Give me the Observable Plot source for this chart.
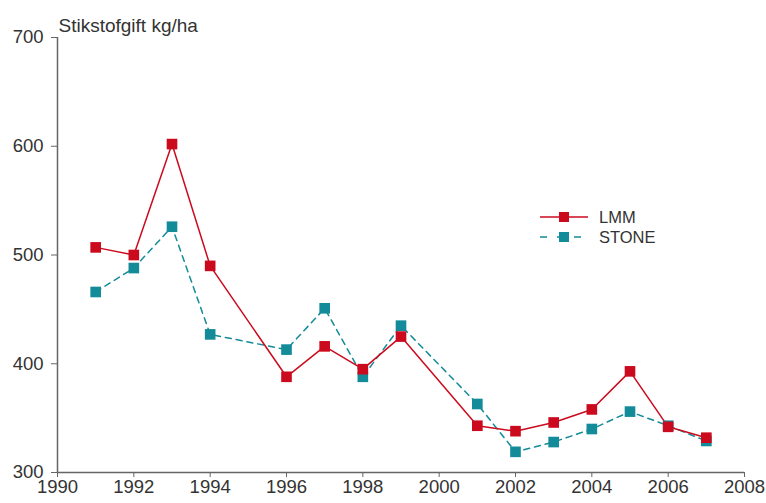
<!DOCTYPE html>
<html>
<head>
<meta charset="utf-8">
<script src="https://cdn.jsdelivr.net/npm/d3@7"></script>
<script src="https://cdn.jsdelivr.net/npm/@observablehq/plot@0.6"></script>
<style>
  html, body { margin: 0; padding: 0; background: #fff; }
  #wrap { position: relative; width: 766px; height: 503px; font-family: "Liberation Sans", Arial, sans-serif; }
  #legend { position: absolute; left: 538px; top: 207px; font-size: 16.5px; color: #333; }
  #legend div { display: flex; align-items: center; height: 20px; }
  #legend svg { margin-right: 9px; }
</style>
</head>
<body>
<div id="wrap"><div id="legend"></div></div>
<script>
const years = [1991, 1992, 1993, 1994, 1996, 1997, 1998, 1999, 2001, 2002, 2003, 2004, 2005, 2006, 2007];
const lmm   = [507, 500, 602, 490, 388, 416, 395, 425, 343, 338, 346, 358, 393, 342, 332];
const stone = [466, 488, 526, 427, 413, 451, 388, 435, 363, 319, 328, 340, 356, 343, 329];
const series = ["LMM", "STONE"];
const colors = ["#cc0a1e", "#138b98"];
const dashes = [null, "6,5"];
const xTicks = [1990, 1992, 1994, 1996, 1998, 2000, 2002, 2004, 2006, 2008];
const yTicks = [300, 400, 500, 600, 700];
const title = "Stikstofgift kg/ha";

const data = [];
years.forEach((yr, i) => {
  data.push({year: yr, value: lmm[i], series: series[0]});
  data.push({year: yr, value: stone[i], series: series[1]});
});
const lmmData = data.filter(d => d.series === series[0]);
const stoneData = data.filter(d => d.series === series[1]);

const chart = Plot.plot({
  width: 766,
  height: 503,
  marginLeft: 57,
  marginRight: 22,
  marginTop: 37,
  marginBottom: 31,
  style: {fontFamily: "Liberation Sans, Arial, sans-serif", fontSize: "18.5px", color: "#333", background: "#fff"},
  x: {domain: [1990, 2008], label: null},
  y: {domain: [300, 700], label: null},
  marks: [
    Plot.axisX({ticks: xTicks, tickFormat: d => String(d), tickSize: 5, tickPadding: 2, stroke: "#666", fill: "#333", fontSize: 18.5, label: null}),
    Plot.axisY({ticks: yTicks, tickSize: 6, tickPadding: 8, stroke: "#666", fill: "#333", fontSize: 18.5, label: null}),
    Plot.ruleX([xTicks[0]], {stroke: "#666", strokeWidth: 1.5}),
    Plot.ruleY([yTicks[0]], {stroke: "#666", strokeWidth: 1.5}),
    Plot.line(stoneData, {x: "year", y: "value", stroke: colors[1], strokeWidth: 1.5, strokeDasharray: dashes[1]}),
    Plot.line(lmmData, {x: "year", y: "value", stroke: colors[0], strokeWidth: 1.5}),
    Plot.dot(stoneData, {x: "year", y: "value", symbol: "square", r: 6, fill: colors[1], stroke: "none"}),
    Plot.dot(lmmData, {x: "year", y: "value", symbol: "square", r: 6, fill: colors[0], stroke: "none"}),
    Plot.text([title], {frameAnchor: "top-left", textAnchor: "start", dx: 1, dy: -19, fontSize: 19, fill: "#333"})
  ]
});
document.getElementById("wrap").prepend(chart);

const legend = document.getElementById("legend");
series.forEach((s, i) => {
  const row = document.createElement("div");
  row.innerHTML = `<svg width="52" height="14"><line x1="2" x2="50" y1="7" y2="7" stroke="${colors[i]}" stroke-width="1.5" ${dashes[i] ? `stroke-dasharray="7,10"` : ""}/><rect x="21" y="2" width="10" height="10" fill="${colors[i]}"/></svg><span>${s}</span>`;
  legend.appendChild(row);
});
</script>
</body>
</html>
